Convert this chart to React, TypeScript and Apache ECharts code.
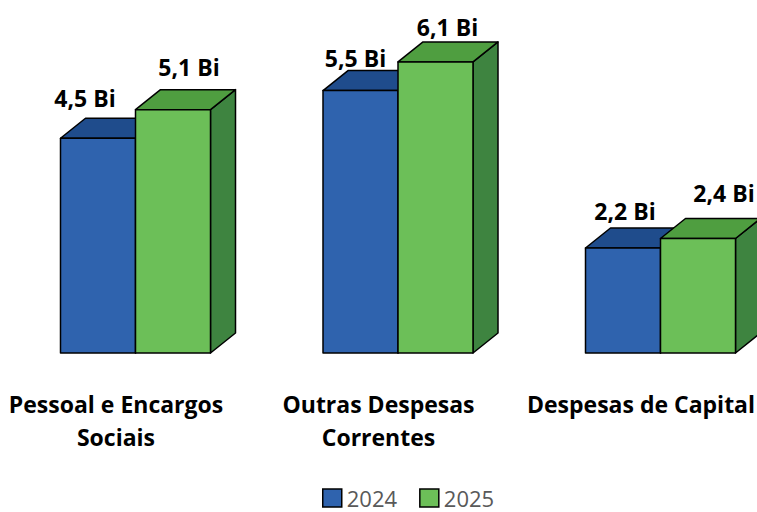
import React, { useEffect, useRef } from "react";
import * as echarts from "echarts";

const categories = ["Pessoal e Encargos\nSociais", "Outras Despesas\nCorrentes", "Despesas de Capital"];
const seriesNames = ["2024", "2025"];
const values2024 = [4.5, 5.5, 2.2];
const values2025 = [5.1, 6.1, 2.4];

// styling
const FRONT = ["#2F63AE", "#6CBF58"];
const TOPC = ["#1F4C8C", "#4F9E40"];
const SIDE = ["#1A407A", "#3E8440"];
const BAR_OFFSET = [-55.5, 19.5];
const BAR_W = 75;
const DX = 25;
const DY = 20;
const LABEL_SHIFT = [
  [[-13, -20], [-5, -13], [2, -17]],
  [[16, -23], [12, -15], [26, -25]],
];
const FONT = "'Open Sans', 'Noto Sans', sans-serif";

const fmt = (v: number) => v.toFixed(1).replace(".", ",") + " Bi";

function makeRender(si: number) {
  return (params: any, api: any) => {
    const cat = api.value(0);
    const val = api.value(1);
    const top = api.coord([cat, val]);
    const base = api.coord([cat, 0]);
    const x0 = top[0] + BAR_OFFSET[si];
    const x1 = x0 + BAR_W;
    const yT = top[1];
    const yB = base[1];
    const stroke = { stroke: "#000", lineWidth: 1.5, lineJoin: "round" };
    const sh = LABEL_SHIFT[si][params.dataIndex];
    return {
      type: "group",
      children: [
        {
          type: "polygon",
          shape: { points: [[x1, yT], [x1 + DX, yT - DY], [x1 + DX, yB - DY], [x1, yB]] },
          style: { fill: SIDE[si], ...stroke },
        },
        {
          type: "polygon",
          shape: { points: [[x0, yT], [x0 + DX, yT - DY], [x1 + DX, yT - DY], [x1, yT]] },
          style: { fill: TOPC[si], ...stroke },
        },
        {
          type: "polygon",
          shape: { points: [[x0, yB], [x1, yB], [x1, yT], [x0, yT]] },
          style: { fill: FRONT[si], ...stroke },
        },
        {
          type: "text",
          style: {
            text: fmt(val),
            x: (x0 + x1) / 2 + sh[0],
            y: yT - DY + sh[1],
            align: "center",
            verticalAlign: "middle",
            fill: "#000",
            font: `bold 23px ${FONT}`,
          },
        },
      ],
    };
  };
}

export default function App() {
  const ref = useRef<HTMLDivElement>(null);
  useEffect(() => {
    if (!ref.current) return;
    const chart = echarts.init(ref.current, null, { renderer: "svg" });
    const all = [values2024, values2025];
    chart.setOption({
      animation: false,
      backgroundColor: "#fff",
      grid: {
        left: -15.25,
        width: 787.5,
        top: 19,
        bottom: 159,
        containLabel: false,
        outerBoundsMode: "none",
      },
      xAxis: {
        type: "category",
        data: categories,
        axisLine: { show: false },
        axisTick: { show: false },
        axisLabel: {
          interval: 0,
          margin: 34,
          color: "#000",
          fontSize: 23,
          fontWeight: "bold",
          fontFamily: FONT,
          lineHeight: 33,
        },
      },
      yAxis: { type: "value", min: 0, max: 7, show: false, splitLine: { show: false } },
      legend: {
        data: seriesNames,
        left: 322,
        top: 486,
        icon: "rect",
        itemWidth: 19,
        itemHeight: 18,
        itemGap: 22,
        padding: 0,
        textStyle: { fontSize: 22, color: "#595959", fontFamily: FONT, lineHeight: 24 },
        itemStyle: { borderColor: "#000", borderWidth: 1.5 },
      },
      series: all.map((vals, si) => ({
        type: "custom",
        name: seriesNames[si],
        renderItem: makeRender(si),
        encode: { x: 0, y: 1 },
        itemStyle: { color: FRONT[si], borderColor: "#000", borderWidth: 1.5 },
        data: vals.map((v, i) => [i, v]),
        clip: false,
      })),
    });
    return () => chart.dispose();
  }, []);
  return <div ref={ref} style={{ position: "fixed", left: 0, top: 0, width: 757, height: 512 }} />;
}
